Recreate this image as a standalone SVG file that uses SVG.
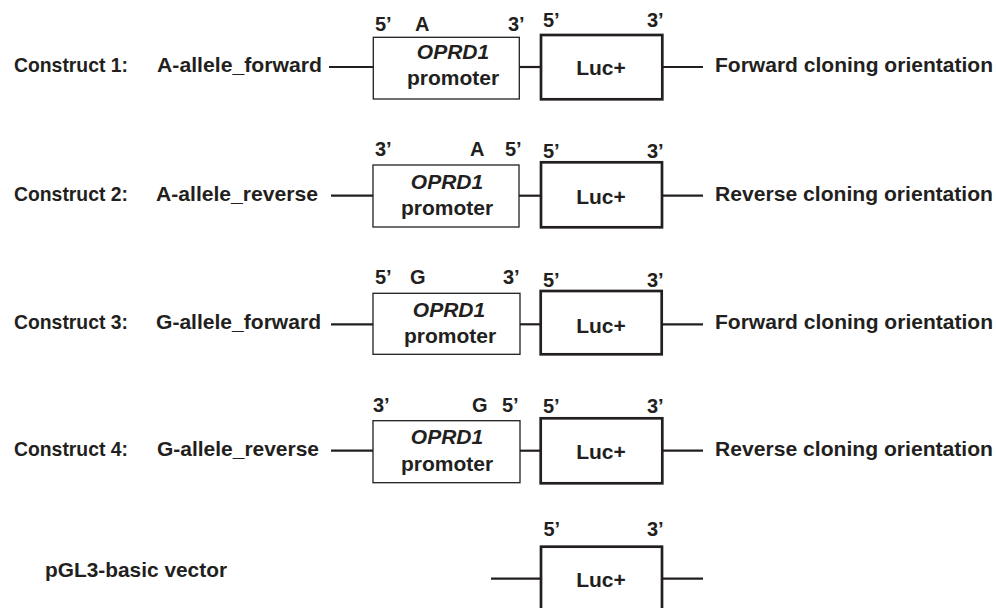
<svg xmlns="http://www.w3.org/2000/svg" width="996" height="608" viewBox="0 0 996 608">
<style>
text{font-family:"Liberation Sans",Arial,Helvetica,sans-serif;font-weight:bold;fill:#231f20}
.lbl{font-size:20px}
.big{font-size:21px}
.in{font-size:21px;text-anchor:middle}
.it{font-style:italic}
.prom{fill:#fff;stroke:#231f20;stroke-width:1.3}
.luc{fill:#fff;stroke:#231f20;stroke-width:2.7}
.conn line{stroke:#231f20;stroke-width:2.2}
</style>
<rect width="996" height="608" fill="#fff"/>

<g id="connectors" class="conn">
  <line x1="329" y1="67" x2="373" y2="67"/>
  <line x1="519" y1="67" x2="541" y2="67"/>
  <line x1="662" y1="67" x2="703" y2="67"/>
  <line x1="331" y1="195.7" x2="373" y2="195.7"/>
  <line x1="519" y1="195.7" x2="541" y2="195.7"/>
  <line x1="662" y1="195.7" x2="703" y2="195.7"/>
  <line x1="331" y1="324.3" x2="373" y2="324.3"/>
  <line x1="520" y1="324.3" x2="541" y2="324.3"/>
  <line x1="662" y1="324.3" x2="703" y2="324.3"/>
  <line x1="331" y1="450.7" x2="373" y2="450.7"/>
  <line x1="520" y1="450.7" x2="541" y2="450.7"/>
  <line x1="662" y1="450.7" x2="703" y2="450.7"/>
  <line x1="491" y1="578.7" x2="541" y2="578.7"/>
  <line x1="662" y1="578.7" x2="703" y2="578.7"/>
</g>

<!-- Row 1 -->
<g id="construct1-label">
  <text class="big" x="14" y="72.3" textLength="114" lengthAdjust="spacingAndGlyphs">Construct 1:</text>
  <text class="big" x="157" y="72.3" textLength="165" lengthAdjust="spacingAndGlyphs">A-allele_forward</text>
</g>
<g id="construct1-promoter">
  <rect class="prom" x="373.3" y="37.3" width="146" height="61.7"/>
  <text class="in it" x="453" y="59.3">OPRD1</text>
  <text class="in" x="453" y="85">promoter</text>
  <text class="lbl" x="375" y="30.7">5’</text>
  <text class="lbl" x="415" y="30.7">A</text>
  <text class="lbl" x="508" y="30.7">3’</text>
</g>
<g id="construct1-luc">
  <rect class="luc" x="541" y="35" width="121.3" height="64.3"/>
  <text class="in" x="601" y="75.3">Luc+</text>
  <text class="lbl" x="543" y="27.3">5’</text>
  <text class="lbl" x="647" y="27.3">3’</text>
</g>
<g id="construct1-orientation">
  <text class="big" x="715" y="72" textLength="278" lengthAdjust="spacingAndGlyphs">Forward cloning orientation</text>
</g>

<!-- Row 2 -->
<g id="construct2-label">
  <text class="big" x="14" y="200.5" textLength="114" lengthAdjust="spacingAndGlyphs">Construct 2:</text>
  <text class="big" x="156" y="200.5" textLength="162" lengthAdjust="spacingAndGlyphs">A-allele_reverse</text>
</g>
<g id="construct2-promoter">
  <rect class="prom" x="373" y="165" width="146" height="62"/>
  <text class="in it" x="447" y="188.5">OPRD1</text>
  <text class="in" x="447" y="214.5">promoter</text>
  <text class="lbl" x="375" y="156">3’</text>
  <text class="lbl" x="470" y="156">A</text>
  <text class="lbl" x="505" y="156">5’</text>
</g>
<g id="construct2-luc">
  <rect class="luc" x="541" y="162.3" width="121" height="65"/>
  <text class="in" x="601" y="204">Luc+</text>
  <text class="lbl" x="543" y="158">5’</text>
  <text class="lbl" x="647" y="158">3’</text>
</g>
<g id="construct2-orientation">
  <text class="big" x="715" y="200.5" textLength="278" lengthAdjust="spacingAndGlyphs">Reverse cloning orientation</text>
</g>

<!-- Row 3 -->
<g id="construct3-label">
  <text class="big" x="14" y="329" textLength="114" lengthAdjust="spacingAndGlyphs">Construct 3:</text>
  <text class="big" x="156" y="329" textLength="165" lengthAdjust="spacingAndGlyphs">G-allele_forward</text>
</g>
<g id="construct3-promoter">
  <rect class="prom" x="373" y="293.3" width="147" height="61"/>
  <text class="in it" x="449" y="317">OPRD1</text>
  <text class="in" x="450" y="343">promoter</text>
  <text class="lbl" x="375" y="284.3">5’</text>
  <text class="lbl" x="410" y="284.3">G</text>
  <text class="lbl" x="503" y="284.3">3’</text>
</g>
<g id="construct3-luc">
  <rect class="luc" x="540.7" y="291" width="121" height="63.3"/>
  <text class="in" x="601" y="332.5">Luc+</text>
  <text class="lbl" x="543" y="286.7">5’</text>
  <text class="lbl" x="647" y="286.7">3’</text>
</g>
<g id="construct3-orientation">
  <text class="big" x="715" y="329" textLength="278" lengthAdjust="spacingAndGlyphs">Forward cloning orientation</text>
</g>

<!-- Row 4 -->
<g id="construct4-label">
  <text class="big" x="14" y="456" textLength="114" lengthAdjust="spacingAndGlyphs">Construct 4:</text>
  <text class="big" x="157" y="456" textLength="162" lengthAdjust="spacingAndGlyphs">G-allele_reverse</text>
</g>
<g id="construct4-promoter">
  <rect class="prom" x="373" y="420.7" width="147" height="62"/>
  <text class="in it" x="447" y="444">OPRD1</text>
  <text class="in" x="447" y="470.7">promoter</text>
  <text class="lbl" x="373" y="411.7">3’</text>
  <text class="lbl" x="472" y="411.7">G</text>
  <text class="lbl" x="502" y="411.7">5’</text>
</g>
<g id="construct4-luc">
  <rect class="luc" x="540.7" y="418.3" width="121.6" height="65"/>
  <text class="in" x="601" y="459">Luc+</text>
  <text class="lbl" x="543" y="413.3">5’</text>
  <text class="lbl" x="647" y="413.3">3’</text>
</g>
<g id="construct4-orientation">
  <text class="big" x="715" y="456" textLength="278" lengthAdjust="spacingAndGlyphs">Reverse cloning orientation</text>
</g>

<!-- Row 5 -->
<g id="pgl3-label">
  <text class="big" x="45" y="576.5" textLength="182" lengthAdjust="spacingAndGlyphs">pGL3-basic vector</text>
</g>
<g id="pgl3-luc">
  <rect class="luc" x="541" y="546.7" width="121" height="80"/>
  <text class="in" x="601" y="586.7">Luc+</text>
  <text class="lbl" x="543.5" y="536">5’</text>
  <text class="lbl" x="647" y="536">3’</text>
</g>
</svg>
